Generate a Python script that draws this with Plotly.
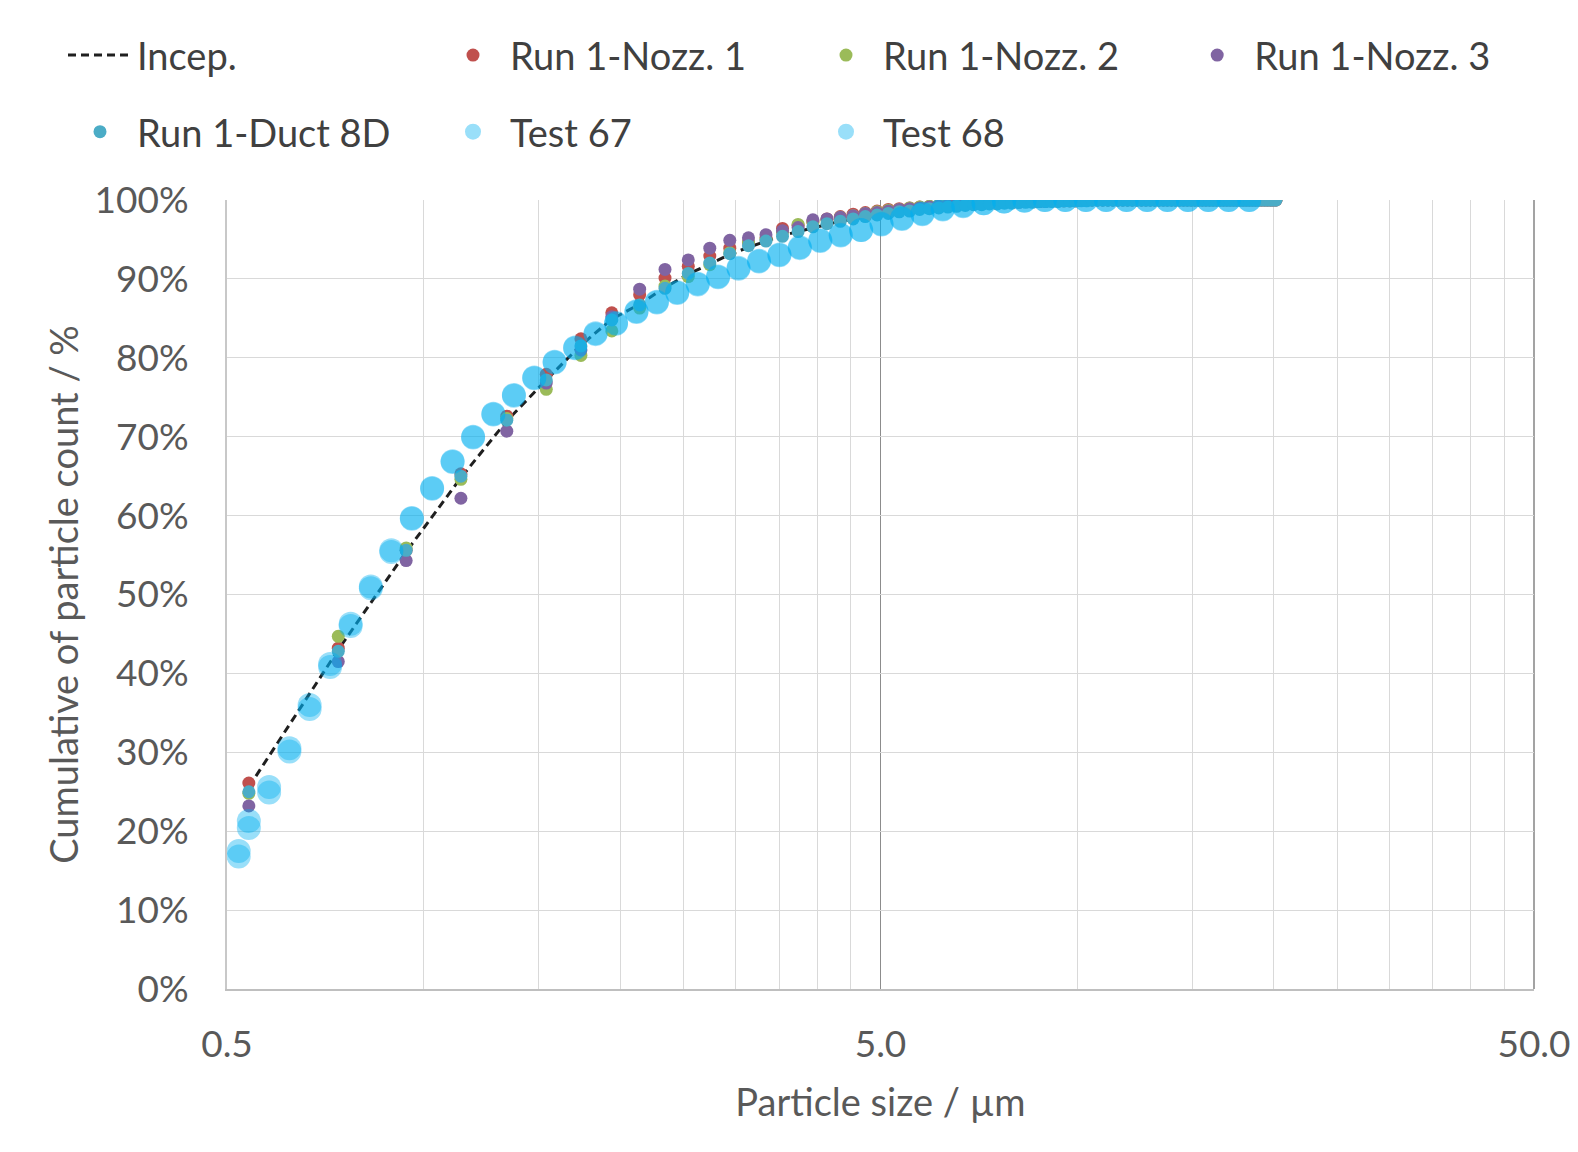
import plotly.graph_objects as go
import math

# ---------------- data ----------------
# size bins of the Run 1 measurements (um)
run_x = [
    0.54, 0.74, 0.94, 1.14, 1.34, 1.54, 1.74, 1.94, 2.14, 2.34,
    2.54, 2.74, 2.94, 3.14, 3.34, 3.54, 3.74, 3.94, 4.14, 4.34,
    4.54, 4.74, 4.94, 5.14, 5.34, 5.54, 5.74, 5.94, 6.14, 6.34,
    6.54, 6.74, 6.94, 7.14, 7.34, 7.54, 7.74, 7.94, 8.14, 8.34,
    8.54, 8.74, 8.94, 9.14, 9.34, 9.54, 9.74, 9.94, 10.14, 10.34,
    10.54, 10.74, 10.94, 11.14, 11.34, 11.54, 11.74, 11.94, 12.14, 12.34,
    12.54, 12.74, 12.94, 13.14, 13.34, 13.54, 13.74, 13.94, 14.14, 14.34,
    14.54, 14.74, 14.94, 15.14, 15.34, 15.54, 15.74, 15.94, 16.14, 16.34,
    16.54, 16.74, 16.94, 17.14, 17.34, 17.54, 17.74, 17.94, 18.14, 18.34,
    18.54, 18.74, 18.94, 19.14, 19.34, 19.54, 19.74, 19.94, 20.14,
]

incep_y = [
    25.6, 43.0, 55.4, 64.8, 72.0, 77.2, 81.6, 84.9, 86.8, 88.9,
    90.6, 91.9, 93.1, 94.0, 94.8, 95.5, 96.0, 96.5, 96.9, 97.3,
    97.6, 97.9, 98.1, 98.3, 98.5, 98.7, 98.8, 98.9, 99.0, 99.1,
    99.2, 99.3, 99.4, 99.4, 99.5, 99.5, 99.6, 99.6, 99.7, 99.7,
    99.7, 99.8, 99.8, 99.8, 99.8, 99.9, 99.9, 99.9, 99.9, 99.9,
    100.0, 100.0, 100.0, 100.0, 100.0, 100.0, 100.0, 100.0, 100.0, 100.0,
    100.0, 100.0, 100.0, 100.0, 100.0, 100.0, 100.0, 100.0, 100.0, 100.0,
    100.0, 100.0, 100.0, 100.0, 100.0, 100.0, 100.0, 100.0, 100.0, 100.0,
    100.0, 100.0, 100.0, 100.0, 100.0, 100.0, 100.0, 100.0, 100.0, 100.0,
    100.0, 100.0, 100.0, 100.0, 100.0, 100.0, 100.0, 100.0, 100.0,
]

nozz1_y = [
    26.1, 43.2, 55.6, 65.3, 72.6, 77.9, 82.4, 85.7, 88.0, 90.1,
    91.6, 92.9, 93.9, 94.6, 95.2, 96.4, 96.8, 97.2, 97.6, 97.9,
    98.2, 98.4, 98.6, 98.8, 98.9, 99.0, 99.1, 99.2, 99.3, 99.4,
    99.4, 99.5, 99.5, 99.6, 99.6, 99.7, 99.7, 99.7, 99.8, 99.8,
    99.8, 99.8, 99.9, 99.9, 99.9, 99.9, 99.9, 99.9, 100.0, 100.0,
    100.0, 100.0, 100.0, 100.0, 100.0, 100.0, 100.0, 100.0, 100.0, 100.0,
    100.0, 100.0, 100.0, 100.0, 100.0, 100.0, 100.0, 100.0, 100.0, 100.0,
    100.0, 100.0, 100.0, 100.0, 100.0, 100.0, 100.0, 100.0, 100.0, 100.0,
    100.0, 100.0, 100.0, 100.0, 100.0, 100.0, 100.0, 100.0, 100.0, 100.0,
    100.0, 100.0, 100.0, 100.0, 100.0, 100.0, 100.0, 100.0, 100.0,
]

nozz2_y = [
    24.8, 44.7, 55.9, 64.6, 72.3, 76.0, 80.3, 83.4, 86.3, 89.1,
    90.3, 91.8, 93.3, 94.7, 95.0, 95.9, 96.9, 97.2, 97.5, 97.8,
    98.0, 98.3, 98.5, 98.7, 98.8, 99.0, 99.1, 99.2, 99.3, 99.3,
    99.4, 99.5, 99.5, 99.6, 99.6, 99.6, 99.7, 99.7, 99.8, 99.8,
    99.8, 99.8, 99.9, 99.9, 99.9, 99.9, 99.9, 99.9, 100.0, 100.0,
    100.0, 100.0, 100.0, 100.0, 100.0, 100.0, 100.0, 100.0, 100.0, 100.0,
    100.0, 100.0, 100.0, 100.0, 100.0, 100.0, 100.0, 100.0, 100.0, 100.0,
    100.0, 100.0, 100.0, 100.0, 100.0, 100.0, 100.0, 100.0, 100.0, 100.0,
    100.0, 100.0, 100.0, 100.0, 100.0, 100.0, 100.0, 100.0, 100.0, 100.0,
    100.0, 100.0, 100.0, 100.0, 100.0, 100.0, 100.0, 100.0, 100.0,
]

nozz3_y = [
    23.2, 41.5, 54.3, 62.2, 70.7, 76.8, 81.0, 85.2, 88.7, 91.2,
    92.4, 93.9, 94.9, 95.2, 95.6, 96.1, 96.5, 97.5, 97.6, 97.8,
    98.0, 98.3, 98.4, 98.6, 98.8, 98.9, 99.0, 99.1, 99.2, 99.3,
    99.4, 99.4, 99.5, 99.5, 99.6, 99.6, 99.7, 99.7, 99.7, 99.8,
    99.8, 99.8, 99.8, 99.9, 99.9, 99.9, 99.9, 99.9, 100.0, 100.0,
    100.0, 100.0, 100.0, 100.0, 100.0, 100.0, 100.0, 100.0, 100.0, 100.0,
    100.0, 100.0, 100.0, 100.0, 100.0, 100.0, 100.0, 100.0, 100.0, 100.0,
    100.0, 100.0, 100.0, 100.0, 100.0, 100.0, 100.0, 100.0, 100.0, 100.0,
    100.0, 100.0, 100.0, 100.0, 100.0, 100.0, 100.0, 100.0, 100.0, 100.0,
    100.0, 100.0, 100.0, 100.0, 100.0, 100.0, 100.0, 100.0, 100.0,
]

duct_y = [
    25.0, 42.8, 55.6, 65.0, 72.1, 77.2, 81.5, 84.8, 86.7, 88.8,
    90.7, 92.0, 93.2, 94.2, 94.8, 95.4, 96.0, 96.6, 97.0, 97.3,
    97.6, 97.9, 98.1, 98.3, 98.5, 98.6, 98.8, 98.9, 99.0, 99.1,
    99.2, 99.3, 99.4, 99.4, 99.5, 99.5, 99.6, 99.6, 99.7, 99.7,
    99.7, 99.8, 99.8, 99.8, 99.8, 99.9, 99.9, 99.9, 99.9, 99.9,
    100.0, 100.0, 100.0, 100.0, 100.0, 100.0, 100.0, 100.0, 100.0, 100.0,
    100.0, 100.0, 100.0, 100.0, 100.0, 100.0, 100.0, 100.0, 100.0, 100.0,
    100.0, 100.0, 100.0, 100.0, 100.0, 100.0, 100.0, 100.0, 100.0, 100.0,
    100.0, 100.0, 100.0, 100.0, 100.0, 100.0, 100.0, 100.0, 100.0, 100.0,
    100.0, 100.0, 100.0, 100.0, 100.0, 100.0, 100.0, 100.0, 100.0,
]

# size bins of the Test 67 / Test 68 measurements (um)
test_x = [
    0.521, 0.540, 0.580, 0.623, 0.669, 0.719, 0.773, 0.830, 0.892, 0.959,
    1.030, 1.107, 1.190, 1.278, 1.374, 1.476, 1.586, 1.705, 1.832, 1.969,
    2.116, 2.274, 2.443, 2.626, 2.821, 3.032, 3.259, 3.502, 3.763, 4.044,
    4.346, 4.670, 5.018, 5.393, 5.795, 6.228, 6.692, 7.192, 7.728, 8.305,
    8.924, 9.590, 10.31, 11.07, 11.90, 12.79, 13.74, 14.77, 15.87, 17.05,
    18.33,
]

test67_y = [
    17.5, 21.3, 25.6, 30.5, 36.0, 41.2, 46.3, 51.0, 55.6, 59.7,
    63.5, 66.9, 70.0, 72.9, 75.3, 77.5, 79.5, 81.3, 83.1, 84.4,
    85.9, 87.1, 88.3, 89.4, 90.3, 91.4, 92.3, 93.1, 94.0, 94.9,
    95.6, 96.2, 97.0, 97.7, 98.3, 98.9, 99.3, 99.6, 99.8, 99.95,
    100.0, 100.0, 100.0, 100.0, 100.0, 100.0, 100.0, 100.0, 100.0, 100.0,
    100.0,
]

test68_y = [
    16.8, 20.4, 24.9, 30.1, 35.5, 40.8, 46.0, 50.8, 55.4, 59.6,
    63.4, 66.8, 69.9, 72.8, 75.2, 77.4, 79.4, 81.2, 83.0, 84.3,
    85.8, 87.0, 88.2, 89.3, 90.2, 91.3, 92.2, 93.0, 93.9, 94.8,
    95.5, 96.2, 96.9, 97.6, 98.2, 98.8, 99.2, 99.6, 99.8, 99.9,
    100.0, 100.0, 100.0, 100.0, 100.0, 100.0, 100.0, 100.0, 100.0, 100.0,
    100.0,
]

x_major_ticks = [0.5, 5, 50]
x_major_labels = ["0.5", "5.0", "50.0"]
x_minor_ticks = [1, 1.5, 2, 2.5, 3, 3.5, 4, 4.5, 10, 15, 20, 25, 30, 35, 40, 45]
y_ticks = [0, 10, 20, 30, 40, 50, 60, 70, 80, 90, 100]
y_labels = ["0%", "10%", "20%", "30%", "40%", "50%", "60%", "70%", "80%", "90%", "100%"]

# ---------------- styling ----------------
FONT = "Lato"
W, H = 1578, 1152
LEG_FONT = dict(family=FONT, size=38, color="#404040")
TICK_FONT = dict(family=FONT, size=37, color="#595959")
TITLE_FONT = dict(family=FONT, size=38, color="#595959")
COL_W = 372.4     # legend column pitch (px)
LEG_X0 = 63       # left edge of the legend block (px)

fig = go.Figure()

fig.add_trace(go.Scatter(
    x=run_x, y=incep_y, mode="lines", name="Incep.",
    line=dict(color="#1f1f1f", width=3, dash="8px,5px"),
    legend="legend",
))

run_series = [
    ("Run 1-Nozz. 1", nozz1_y, "#C0504D", "legend"),
    ("Run 1-Nozz. 2", nozz2_y, "#9BBB59", "legend"),
    ("Run 1-Nozz. 3", nozz3_y, "#8064A2", "legend3"),
    ("Run 1-Duct 8D", duct_y, "#4BACC6", "legend2"),
]
for name, ys, col, leg in run_series:
    fig.add_trace(go.Scatter(
        x=run_x, y=ys, mode="markers", name=name,
        marker=dict(size=13, color=col, line=dict(width=0)),
        legend=leg,
    ))

for name, ys in [("Test 67", test67_y), ("Test 68", test68_y)]:
    fig.add_trace(go.Scatter(
        x=test_x, y=ys, mode="markers", name=name,
        marker=dict(size=24, color="rgba(0,176,240,0.4)", line=dict(width=0)),
        legend="legend2",
    ))

common_leg = dict(
    orientation="h", xref="container", yref="container",
    xanchor="left", yanchor="middle",
    entrywidth=294, entrywidthmode="pixels", itemwidth=64,
    font=LEG_FONT, bgcolor="rgba(0,0,0,0)", borderwidth=0,
    traceorder="normal", itemclick=False,
)

fig.update_layout(
    width=W, height=H,
    paper_bgcolor="white", plot_bgcolor="white",
    margin=dict(l=227, r=44, t=200, b=163, autoexpand=False),
    font=dict(family=FONT, color="#595959"),
    legend=dict(common_leg, x=LEG_X0 / W, y=1 - 55.4 / H),
    legend3=dict(common_leg, x=(LEG_X0 + 3 * COL_W) / W, y=1 - 55.4 / H),
    legend2=dict(common_leg, x=LEG_X0 / W, y=1 - 132 / H),
    showlegend=True,
    shapes=[dict(type="line", xref="paper", yref="paper", x0=1, x1=1, y0=0, y1=1,
                 line=dict(color="#8C8C8C", width=1.6), layer="below")],
)

fig.update_xaxes(
    type="log",
    range=[math.log10(0.5), math.log10(50)],
    tickmode="array", tickvals=x_major_ticks, ticktext=x_major_labels,
    showgrid=True, gridcolor="#8C8C8C", gridwidth=1.4,
    minor=dict(tickmode="array", tickvals=x_minor_ticks, showgrid=True,
               gridcolor="#D9D9D9", gridwidth=1.4, ticks=""),
    showline=True, linecolor="#BFBFBF", linewidth=2,
    ticks="", ticklabelstandoff=22, automargin=False,
    tickfont=TICK_FONT, zeroline=False,
    title=dict(text="Particle size / µm", font=TITLE_FONT, standoff=25),
)

fig.update_yaxes(
    range=[0, 100],
    tickmode="array", tickvals=y_ticks, ticktext=y_labels,
    showgrid=True, gridcolor="#D9D9D9", gridwidth=1.4,
    showline=True, linecolor="#C8C8C8", linewidth=2,
    ticks="", ticklabelstandoff=29, automargin=False,
    tickfont=TICK_FONT, zeroline=False,
    title=dict(text="Cumulative of particle count / %", font=TITLE_FONT, standoff=4),
)

fig.write_html("out.html", config={"displayModeBar": False},
               post_script="document.body.style.margin='0px';")
